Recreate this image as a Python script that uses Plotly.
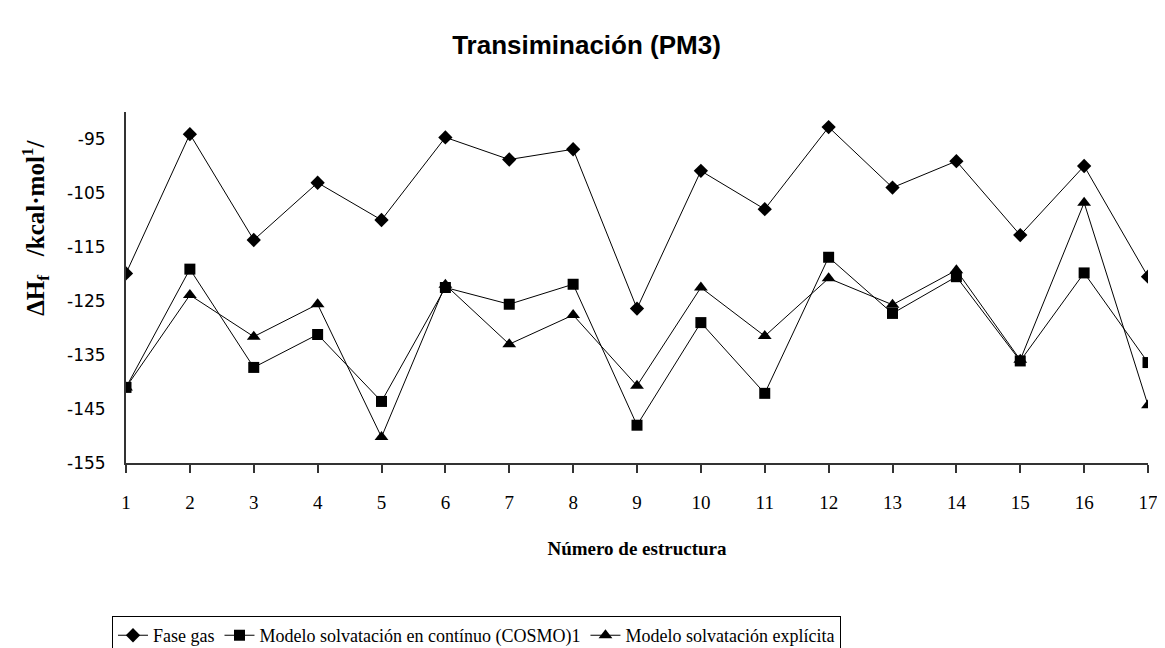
import plotly.graph_objects as go

estructura = list(range(1, 18))
fase_gas = [-119.9, -94.1, -113.7, -103.1, -110.0, -94.7, -98.8, -96.9, -126.4,
            -100.9, -108.0, -92.8, -104.0, -99.1, -112.8, -100.0, -120.5]
cosmo = [-141.0, -119.1, -137.3, -131.2, -143.6, -122.5, -125.6, -121.9, -148.0,
         -129.0, -142.1, -116.9, -127.3, -120.5, -136.1, -119.8, -136.4]
explicita = [-141.0, -123.9, -131.6, -125.6, -150.2, -122.0, -133.0, -127.6, -140.7,
             -122.5, -131.5, -120.8, -125.7, -119.3, -135.9, -106.8, -144.3]
series_names = ["Fase gas", "Modelo solvatación en contínuo (COSMO)1", "Modelo solvatación explícita"]
y_ticks = [-95, -105, -115, -125, -135, -145, -155]

fig = go.Figure()
fig.add_trace(go.Scatter(x=estructura, y=fase_gas, name=series_names[0], mode="lines+markers",
                         line=dict(color="black", width=1),
                         marker=dict(symbol="diamond", size=11, color="black")))
fig.add_trace(go.Scatter(x=estructura, y=cosmo, name=series_names[1], mode="lines+markers",
                         line=dict(color="black", width=1),
                         marker=dict(symbol="square", size=11, color="black")))
fig.add_trace(go.Scatter(x=estructura, y=explicita, name=series_names[2], mode="lines+markers",
                         line=dict(color="black", width=1),
                         marker=dict(symbol="triangle-up", size=12, color="black")))

fig.update_layout(
    width=1157, height=640,
    margin=dict(l=118, r=17, t=104, b=185, autoexpand=False),
    paper_bgcolor="white", plot_bgcolor="white",
    title=dict(text="<b>Transiminación (PM3)</b>", x=0.5, xanchor="center",
               y=1 - 37 / 640, yanchor="middle", yref="container",
               font=dict(family="Liberation Sans", size=26, color="black")),
    showlegend=True,
    legend=dict(orientation="h", x=-0.0137, xanchor="left", y=-0.436, yanchor="top",
                bordercolor="black", borderwidth=1,
                font=dict(family="Liberation Serif", size=18, color="black"),
                itemwidth=30, tracegroupgap=0),
    xaxis=dict(range=[1, 17], tickmode="array", tickvals=estructura,
               ticktext=[str(v) for v in estructura],
               showgrid=False, zeroline=False, showline=True, linecolor="#333", linewidth=2,
               ticks="outside", ticklen=8, tickcolor="#333", tickwidth=2,
               ticklabelstandoff=13,
               tickfont=dict(family="Liberation Serif", size=19, color="black"),
               title=dict(text="<b>Número de estructura</b>", standoff=30,
                          font=dict(family="Liberation Serif", size=19, color="black"))),
    yaxis=dict(range=[-155, -90], tickmode="array", tickvals=y_ticks,
               ticktext=[str(v) for v in y_ticks],
               showgrid=False, zeroline=False, showline=True, linecolor="#333", linewidth=2,
               ticks="", ticklabelstandoff=15,
               tickfont=dict(family="DejaVu Sans", size=17, color="black")),
)

fig.add_annotation(text="<b>ΔH<sub>f</sub>   /kcal·mol<sup>1</sup>/</b>", textangle=-90,
                   xref="paper", yref="paper", x=-0.089, y=0.67,
                   xanchor="center", yanchor="middle", showarrow=False,
                   font=dict(family="Liberation Serif", size=25, color="black"))

fig.write_html("out.html")
